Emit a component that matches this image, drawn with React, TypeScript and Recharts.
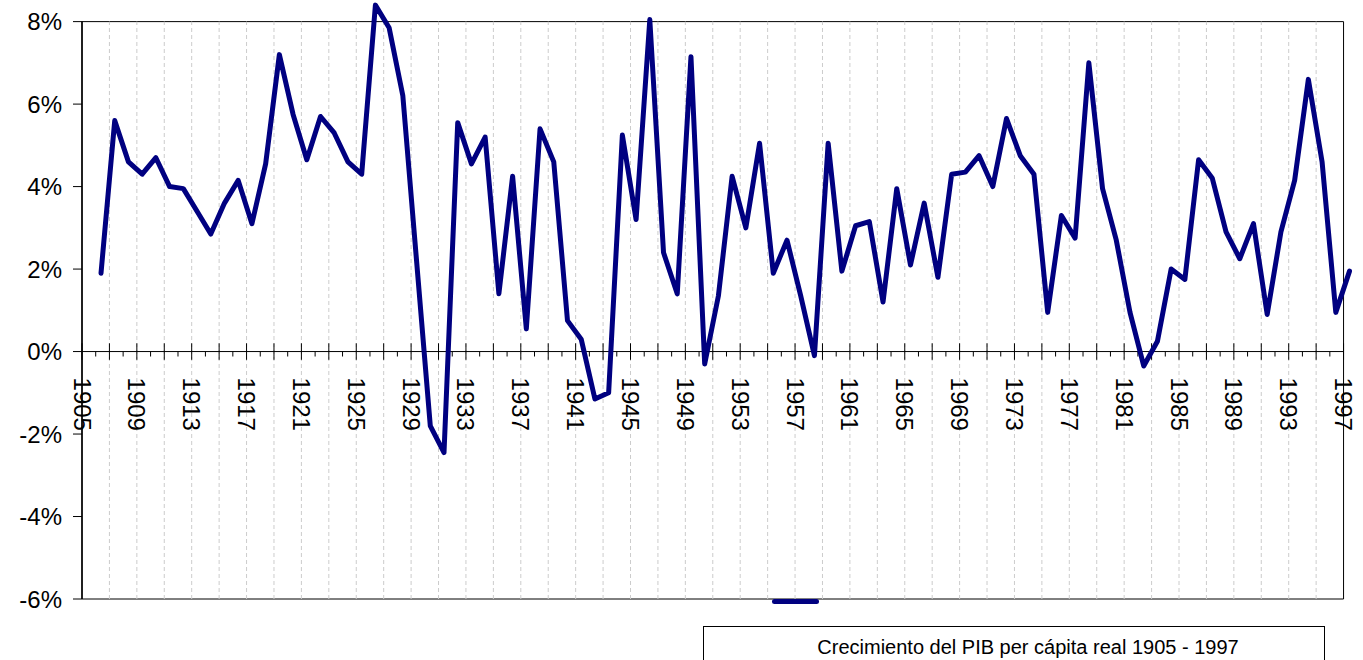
import React from "react";
import {
  LineChart,
  Line,
  XAxis,
  YAxis,
  ReferenceLine,
  ReferenceArea,
  Legend,
} from "recharts";

// growth of real GDP per capita, % per year, 1906 - 1997
const growth = [
  1.9, 5.6, 4.6, 4.3, 4.7, 4.0, 3.95, 3.4, 2.85, 3.6,
  4.15, 3.1, 4.55, 7.2, 5.75, 4.65, 5.7, 5.3, 4.6, 4.3,
  8.4, 7.85, 6.2, 2.2, -1.8, -2.45, 5.55, 4.55, 5.2, 1.4,
  4.25, 0.55, 5.4, 4.6, 0.75, 0.3, -1.15, -1.0, 5.25, 3.2,
  8.05, 2.4, 1.4, 7.15, -0.3, 1.35, 4.25, 3.0, 5.05, 1.9,
  2.7, 1.35, -0.1, 5.05, 1.95, 3.05, 3.15, 1.2, 3.95, 2.1,
  3.6, 1.8, 4.3, 4.35, 4.75, 4.0, 5.65, 4.75, 4.3, 0.95,
  3.3, 2.75, 7.0, 3.95, 2.7, 0.95, -0.35, 0.25, 2.0, 1.75,
  4.65, 4.2, 2.9, 2.25, 3.1, 0.9, 2.9, 4.15, 6.6, 4.6,
  0.95, 1.95,
];
const firstYear = 1906;
const years = growth.map((_, i) => firstYear + i);
const axisYears = [1905, ...years];
const labelYears = [
  1905, 1909, 1913, 1917, 1921, 1925, 1929, 1933, 1937, 1941, 1945, 1949,
  1953, 1957, 1961, 1965, 1969, 1973, 1977, 1981, 1985, 1989, 1993, 1997,
];
const yTicks = [-6, -4, -2, 0, 2, 4, 6, 8];
const seriesName = "Crecimiento del PIB per cápita real 1905 - 1997";

const data = years.map((year, i) => ({ year, growth: growth[i] }));
const majorYears = axisYears.filter((y) => (y - 1905) % 2 === 0);
const minorYears = axisYears.filter((y) => (y - 1905) % 2 === 1);
const gridYears = majorYears.filter((y) => y > 1905 && y < 1997);

const FONT = '"Liberation Sans", Arial, sans-serif';
const NAVY = "#000080";

function YearLabel({ viewBox, year }: any) {
  const x = viewBox.x;
  const y = viewBox.y + viewBox.height / 2 + 26;
  return (
    <text
      x={x}
      y={y}
      transform={`rotate(90 ${x} ${y})`}
      fontSize={24}
      fontFamily={FONT}
      dominantBaseline="central"
      fill="#000"
    >
      {year}
    </text>
  );
}

function LegendBox({ payload }: any) {
  const item = payload && payload[0];
  if (!item) return null;
  return (
    <div style={{ position: "relative", width: 1363, height: 660, fontFamily: FONT }}>
      <div
        style={{
          position: "absolute",
          left: 772,
          top: 599,
          width: 47,
          height: 5,
          borderRadius: 3,
          background: item.color,
        }}
      />
      <div
        style={{
          position: "absolute",
          left: 703,
          top: 626,
          width: 622,
          height: 34,
          boxSizing: "border-box",
          borderTop: "1px solid #000",
          borderLeft: "1px solid #000",
          borderRight: "1px solid #000",
          fontSize: 20,
          lineHeight: "22px",
          paddingTop: 9,
          paddingLeft: 28,
          textAlign: "center",
          color: "#000",
          whiteSpace: "nowrap",
        }}
      >
        {item.value}
      </div>
    </div>
  );
}

export default function App() {
  return (
    <div style={{ position: "absolute", left: 0, top: 0 }}>
      <LineChart
        width={1363}
        height={660}
        data={data}
        margin={{ top: 1, right: 13, bottom: 61, left: 20 }}
      >
        <XAxis xAxisId="years" type="number" dataKey="year" domain={[1905, 1997.47]} hide />
        <XAxis xAxisId="series" type="number" dataKey="year" domain={[1904.615, 1997.035]} hide />
        <YAxis
          domain={[-6, 8.5]}
          ticks={yTicks}
          interval={0}
          axisLine={false}
          tickLine={{ stroke: "#000" }}
          tickSize={9}
          tickMargin={11}
          width={62}
          tick={{ fontSize: 24, fill: "#000", fontFamily: FONT }}
          tickFormatter={(v) => `${v}%`}
        />
        {gridYears.map((yr) => (
          <ReferenceLine
            key={`g${yr}`}
            xAxisId="years"
            segment={[{ x: yr, y: -6 }, { x: yr, y: 8 }]}
            stroke="#cccccc"
            strokeDasharray="4 3"
          />
        ))}
        <ReferenceArea
          xAxisId="years"
          x1={1905}
          x2={1997}
          y1={-6}
          y2={8}
          fill="none"
          stroke="#000"
          strokeWidth={1}
        />
        <ReferenceLine
          xAxisId="years"
          segment={[{ x: 1905, y: -6 }, { x: 1905, y: 8 }]}
          stroke="#000"
          strokeWidth={1.5}
        />
        <ReferenceLine
          xAxisId="years"
          segment={[{ x: 1905, y: 0 }, { x: 1997, y: 0 }]}
          stroke="#000"
        />
        {minorYears.map((yr) => (
          <ReferenceLine
            key={`m${yr}`}
            xAxisId="years"
            segment={[{ x: yr, y: 0 }, { x: yr, y: -0.12 }]}
            stroke="#000"
          />
        ))}
        {majorYears.map((yr) => (
          <ReferenceLine
            key={`M${yr}`}
            xAxisId="years"
            segment={[{ x: yr, y: 0.2 }, { x: yr, y: -0.2 }]}
            stroke="#000"
            label={labelYears.includes(yr) ? <YearLabel year={yr} /> : undefined}
          />
        ))}
        <Line
          xAxisId="series"
          type="linear"
          dataKey="growth"
          name={seriesName}
          stroke={NAVY}
          strokeWidth={5}
          strokeLinejoin="round"
          strokeLinecap="round"
          dot={false}
          activeDot={false}
          isAnimationActive={false}
        />
        <Legend
          layout="vertical"
          align="center"
          verticalAlign="middle"
          wrapperStyle={{ left: 0, top: 0, width: 1363, height: 660 }}
          content={<LegendBox />}
        />
      </LineChart>
    </div>
  );
}
